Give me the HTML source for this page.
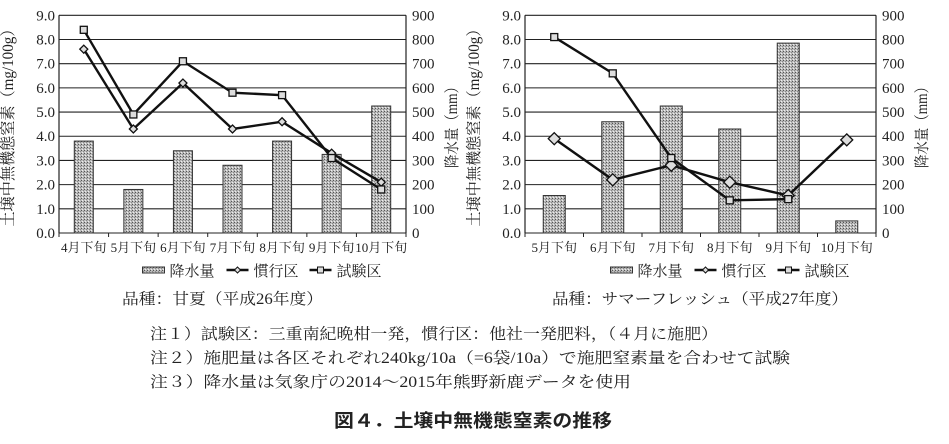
<!DOCTYPE html>
<html><head><meta charset="utf-8">
<style>
body{margin:0;background:#fff;width:949px;height:444px;overflow:hidden;font-family:"Liberation Serif","Noto Serif CJK SC",serif;}
svg{position:absolute;left:0;top:0}
.t{font-family:"Liberation Serif","Noto Serif CJK SC",serif;fill:#222}
</style></head><body>
<svg id="c" width="949" height="444">
<defs>
<pattern id="dots" width="3" height="3" patternUnits="userSpaceOnUse">
<rect width="3" height="3" fill="#bbb"/><rect width="1" height="1" fill="#555"/><rect x="2" y="1" width="1" height="1" fill="#888"/><rect x="1" y="2" width="1" height="1" fill="#eee"/>
</pattern>
</defs>
<text class="t" x="122" y="304" font-size="15.5" textLength="201" lengthAdjust="spacingAndGlyphs">品種：甘夏（平成26年度）</text>
<text class="t" x="552" y="304" font-size="15.5" textLength="296" lengthAdjust="spacingAndGlyphs">品種：サマーフレッシュ（平成27年度）</text>
<text class="t" x="150" y="339" font-size="15.5" textLength="568" lengthAdjust="spacingAndGlyphs">注１）試験区：三重南紀晩柑一発，慣行区：他社一発肥料，（４月に施肥）</text>
<text class="t" x="150" y="363" font-size="15.5" textLength="640" lengthAdjust="spacingAndGlyphs">注２）施肥量は各区それぞれ240kg/10a（=6袋/10a）で施肥窒素量を合わせて試験</text>
<text class="t" x="150" y="387" font-size="15.5" textLength="481" lengthAdjust="spacingAndGlyphs">注３）降水量は気象庁の2014～2015年熊野新鹿データを使用</text>
<text x="334" y="427" font-size="18" font-weight="bold" fill="#222" textLength="278" lengthAdjust="spacingAndGlyphs" style="font-family:'Liberation Sans','Noto Sans CJK JP',sans-serif">図４．土壌中無機態窒素の推移</text>
</svg>
<script>
const cats1=["4月下旬","5月下旬","6月下旬","7月下旬","8月下旬","9月下旬","10月下旬"];
const rain1=[380,180,340,280,380,325,525];
const kanko1=[7.6,4.3,6.2,4.3,4.6,3.3,2.1];
const shiken1=[8.4,4.9,7.1,5.8,5.7,3.1,1.8];
const cats2=["5月下旬","6月下旬","7月下旬","8月下旬","9月下旬","10月下旬"];
const rain2=[155,460,525,430,785,50];
const kanko2=[3.9,2.2,2.8,2.1,1.55,3.85];
const shiken2=[8.1,6.6,3.1,1.35,1.4];
const leftTicks=["0.0","1.0","2.0","3.0","4.0","5.0","6.0","7.0","8.0","9.0"];
const rightTicks=["0","100","200","300","400","500","600","700","800","900"];

const svg=document.getElementById('c');
const NS='http://www.w3.org/2000/svg';
function mk(tag,attrs,parent){const e=document.createElementNS(NS,tag);for(const k in attrs)e.setAttribute(k,attrs[k]);(parent||svg).appendChild(e);return e;}

function chart(id,L,R,cats,rain,kanko,shiken,barW,diamondR,sqS){
  const T=15.3,B=233;
  const g=mk('g',{});
  
  
  const y=v=>B-(v/9)*(B-T);
  const yr=v=>B-(v/900)*(B-T);
  const step=(R-L)/cats.length;
  const x=i=>L+step*(i+0.5);
  leftTicks.forEach((t,i)=>{
    const yy=y(i);
    const ln=mk('line',{x1:L,x2:R,y1:yy,y2:yy,stroke:'#222','stroke-width':1.1},g);
    
    
    const lt=mk('text',{x:L-4,y:yy+5,'text-anchor':'end','font-size':15,class:'t'},g);lt.textContent=t;
    
    
    const rt=mk('text',{x:R+6,y:yy+5,'font-size':15,class:'t'},g);rt.textContent=rightTicks[i];
    
    
  });
  mk('line',{x1:L,x2:L,y1:T,y2:B,stroke:'#222','stroke-width':1.2},g);
  mk('line',{x1:R,x2:R,y1:T,y2:B,stroke:'#222','stroke-width':1.2},g);
  for(let i=0;i<=cats.length;i++){mk('line',{x1:L+step*i,x2:L+step*i,y1:B,y2:B+4,stroke:'#222'},g);}
  rain.forEach((v,i)=>{
    const b=mk('rect',{x:x(i)-barW/2,y:yr(v),width:barW,height:B-yr(v),fill:'url(#dots)',stroke:'#333','stroke-width':1},g);
    
    
  });
  function line(vals,name){
    const p=mk('polyline',{points:vals.map((v,i)=>x(i)+','+y(v)).join(' '),fill:'none',stroke:'#111','stroke-width':2.4},g);
    
    
  }
  line(kanko,'kanko-line');line(shiken,'shiken-line');
  kanko.forEach((v,i)=>{
    const cx=x(i),cy=y(v),r=diamondR;
    const d=mk('polygon',{points:`${cx},${cy-r} ${cx+r},${cy} ${cx},${cy+r} ${cx-r},${cy}`,fill:'#ddd',stroke:'#111','stroke-width':1.3},g);
    
    
  });
  shiken.forEach((v,i)=>{
    const s=mk('rect',{x:x(i)-sqS/2,y:y(v)-sqS/2,width:sqS,height:sqS,fill:'#ddd',stroke:'#111','stroke-width':1.3},g);
    
    
  });
  cats.forEach((c,i)=>{
    const t=mk('text',{x:x(i),y:252,'text-anchor':'middle','font-size':13,class:'t'},g);t.textContent=c;
    
    
  });
  const lx=L-46,rx=R+51,cy=124;
  const at=mk('text',{x:lx,y:cy,'text-anchor':'middle','font-size':15.5,class:'t',textLength:205,lengthAdjust:'spacingAndGlyphs',transform:`rotate(-90 ${lx} ${cy})`},g);
  at.textContent='土壌中無機態窒素（mg/100g）';
  
  
  const ar=mk('text',{x:rx,y:cy,'text-anchor':'middle','font-size':15.5,class:'t',textLength:88,lengthAdjust:'spacingAndGlyphs',transform:`rotate(-90 ${rx} ${cy})`},g);
  ar.textContent='降水量（mm）';
  
  
  const lg=mk('g',{},g);
  
  
  const lx0=(L+R)/2-90, ly=270;
  mk('rect',{x:lx0,y:ly-3,width:22,height:6,fill:'url(#dots)',stroke:'#333'},lg);
  let t1=mk('text',{x:lx0+27,y:ly+6,'font-size':15,class:'t'},lg);t1.textContent='降水量';
  mk('line',{x1:lx0+84,x2:lx0+106,y1:ly,y2:ly,stroke:'#111','stroke-width':2.4},lg);
  mk('polygon',{points:`${lx0+95},${ly-3} ${lx0+98},${ly} ${lx0+95},${ly+3} ${lx0+92},${ly}`,fill:'#ddd',stroke:'#111'},lg);
  let t2=mk('text',{x:lx0+111,y:ly+6,'font-size':15,class:'t'},lg);t2.textContent='慣行区';
  mk('line',{x1:lx0+167,x2:lx0+189,y1:ly,y2:ly,stroke:'#111','stroke-width':2.4},lg);
  mk('rect',{x:lx0+175,y:ly-3,width:6,height:6,fill:'#ddd',stroke:'#111'},lg);
  let t3=mk('text',{x:lx0+194,y:ly+6,'font-size':15,class:'t'},lg);t3.textContent='試験区';
}
chart('chart-amanatsu',59,406,cats1,rain1,kanko1,shiken1,19,4,7);
chart('chart-summer-fresh',525,876,cats2,rain2,kanko2,shiken2,22,6,7);
</script>
</body></html>
